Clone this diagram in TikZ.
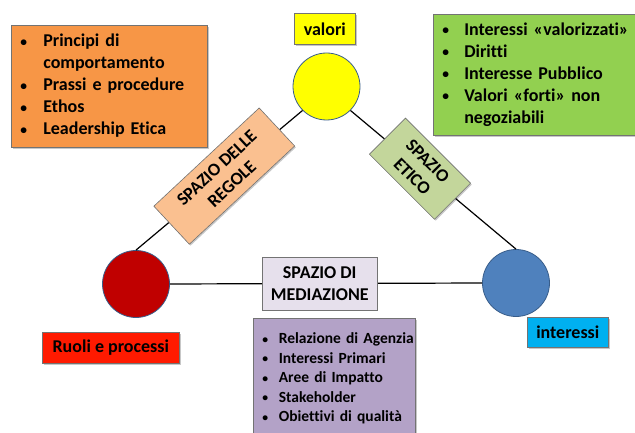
\documentclass[tikz,border=0pt]{standalone}
\usepackage{fontspec}
\setmainfont{Carlito}[Ligatures={NoCommon}]
\usetikzlibrary{calc,shadows}
\definecolor{orng}{HTML}{F79646}
\definecolor{grn}{HTML}{92D050}
\definecolor{prpl}{HTML}{B3A2C7}
\definecolor{ltprpl}{HTML}{E6E0EC}
\definecolor{ltorng}{HTML}{FAC090}
\definecolor{ltgrn}{HTML}{C3D69B}
\definecolor{yel}{HTML}{FFFF00}
\definecolor{dred}{HTML}{C00000}
\definecolor{brred}{HTML}{FF1A00}
\definecolor{blu}{HTML}{4F81BD}
\definecolor{cyanb}{HTML}{00B0F0}
\definecolor{circb}{HTML}{385D8A}
\newlength\bulw
\newcommand\itm[1]{\makebox[\bulw][l]{\hspace{1pt}\raisebox{0.5pt}{\scalebox{0.75}{\textbullet}}}#1\\}
\newcommand\cnt[1]{\hspace*{\bulw}#1\\}
\begin{document}
\begin{tikzpicture}[x=1pt,y=-1pt,
  box/.style={draw=black!55, line width=0.6pt, inner sep=0pt, font=\bfseries,
    drop shadow={shadow xshift=1.2pt, shadow yshift=-1.4pt, fill=black, opacity=0.22}},
  listbox/.style={box, anchor=north west, align=left, inner xsep=8pt},
  circ/.style={circle, draw=circb, line width=0.8pt, minimum size=67pt, inner sep=0pt},
  conn/.style={draw=black, line width=1.2pt},
  lbl/.style={box, align=center, font=\bfseries\fontsize{18}{22}\selectfont}]
\useasboundingbox (0,0) rectangle (635,433);
% circles
\node[circ, fill=yel] (yellow) at (326.5,86.5) {};
\node[circ, fill=dred] (red) at (136,284) {};
\node[circ, fill=blu] (blue) at (516,283) {};
% connectors with space labels
\draw[conn] (red.north) -- node[pos=0.53, lbl, fill=ltorng, rotate=43, minimum width=144pt, minimum height=52pt] (regole) {SPAZIO DELLE\\REGOLE} (yellow.south west);
\draw[conn] (yellow.south east) -- node[pos=0.42, lbl, fill=ltgrn, rotate=-45, minimum width=92pt, minimum height=51pt] (etico) {SPAZIO\\ETICO} (blue.north);
\draw[conn] (red.east) -- node[pos=0.48, lbl, fill=ltprpl, minimum width=115pt, minimum height=53pt] (mediaz) {SPAZIO DI\\MEDIAZIONE} (blue.west);
% labels
\node[lbl, fill=yel, anchor=north west, minimum width=61pt, minimum height=31pt] (valori) at (294,13) {valori};
\node[lbl, fill=brred, anchor=north west, minimum width=137pt, minimum height=31pt] (ruoli) at (42,332) {Ruoli e processi};
\node[lbl, fill=cyanb, anchor=north west, minimum width=81pt, minimum height=30pt] (interessi) at (527,317) {interessi};
% list boxes
\node[listbox, fill=orng, text width=180pt, minimum height=122pt, font=\bfseries\fontsize{18}{22}\selectfont] (principi) at (11,25)
  {\setlength\bulw{24pt}\begin{tabular}{@{}l@{}}\itm{Principi di}\cnt{comportamento}\itm{Prassi e procedure}\itm{Ethos}\itm{Leadership Etica}\end{tabular}};
\node[listbox, fill=grn, text width=210pt, minimum height=121pt, font=\bfseries\fontsize{18}{22}\selectfont] (valorilist) at (433,14)
  {\setlength\bulw{23pt}\begin{tabular}{@{}l@{}}\itm{Interessi «valorizzati»}\itm{Diritti}\itm{Interesse Pubblico}\itm{Valori «forti» non}\cnt{negoziabili}\end{tabular}};
\node[listbox, fill=prpl, text width=146pt, minimum height=121pt, inner ysep=0pt, font=\bfseries\fontsize{15.5}{19.5}\selectfont] (agenzia) at (253,318)
  {\setlength\bulw{17.5pt}\begin{tabular}{@{}l@{}}\itm{Relazione di Agenzia}\itm{Interessi Primari}\itm{Aree di Impatto}\itm{Stakeholder}\itm{Obiettivi di qualità}\end{tabular}};
\end{tikzpicture}
\end{document}
